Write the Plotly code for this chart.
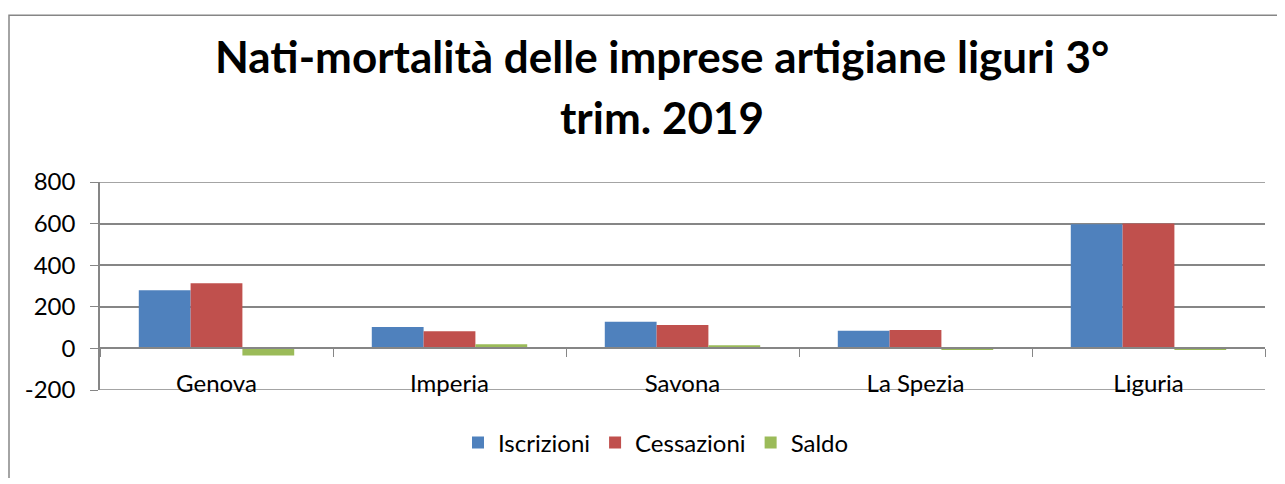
import plotly.graph_objects as go

# values
province = ["Genova", "Imperia", "Savona", "La Spezia", "Liguria"]
iscrizioni = [279, 103, 128, 85, 597]
cessazioni = [313, 83, 113, 88, 600]
saldo = [-34, 20, 15, -3, -3]

series_names = ["Iscrizioni", "Cessazioni", "Saldo"]
colors = ["#4F81BD", "#C0504D", "#9BBB59"]

y_ticks = [-200, 0, 200, 400, 600, 800]
y_labels = ["-200", "0", "200", "400", "600", "800"]

FONT = "Lato"
GRID = "#868686"

# the page body adds an 8px margin, so the figure is a bit smaller
OFF = 8
W, H = 1285 - OFF, 470
L, T = 100 - OFF, 182 - OFF
R = W - (1265 - OFF)
B = H - (394 - OFF)

fig = go.Figure()
for name, vals, col in zip(series_names, [iscrizioni, cessazioni, saldo], colors):
    fig.add_trace(go.Bar(x=province, y=vals, name=name, marker_color=col,
                         marker_line_width=0))

pw = W - L - R
ph = H - T - B


def px_x(p):
    # reference pixel -> paper x
    return (p - OFF - L) / pw


def px_y(p):
    # reference pixel -> paper y
    return (H - B - (p - OFF)) / ph


# outer chart border (only left and top edges fall inside the picture)
fig.add_shape(type="rect", xref="paper", yref="paper",
              x0=px_x(9), x1=px_x(1400), y0=px_y(600), y1=px_y(12),
              line=dict(color=GRID, width=1.5), layer="below")

# top and bottom gridlines (plotly drops the ones at the range ends)
for v in [y_ticks[0], y_ticks[-1]]:
    fig.add_shape(type="line", xref="paper", yref="y", x0=0, x1=1, y0=v, y1=v,
                  line=dict(color=GRID, width=1.5), layer="below")

# title, two lines as in the reference
fig.add_annotation(text="<b>Nati-mortalità delle imprese artigiane liguri 3°</b>",
                   xref="paper", yref="paper", x=px_x(662), y=px_y(54),
                   xanchor="center", yanchor="middle", showarrow=False,
                   font=dict(family=FONT, size=44, color="black"))
fig.add_annotation(text="<b>trim. 2019</b>",
                   xref="paper", yref="paper", x=px_x(662), y=px_y(116),
                   xanchor="center", yanchor="middle", showarrow=False,
                   font=dict(family=FONT, size=44, color="black"))

fig.update_layout(
    width=W, height=H,
    margin=dict(l=L, r=R, t=T, b=B, pad=0),
    paper_bgcolor="white", plot_bgcolor="white",
    barmode="group", bargap=0.333, bargroupgap=0,
    font=dict(family=FONT, size=24, color="black"),
    showlegend=True,
    legend=dict(orientation="h", x=px_x(656), xanchor="center",
                y=px_y(448), yanchor="middle",
                font=dict(family=FONT, size=24, color="black"),
                itemwidth=30, tracegroupgap=0),
)

fig.update_yaxes(range=[-200, 800], tickvals=y_ticks, ticktext=y_labels,
                 showgrid=True, gridcolor=GRID, gridwidth=1.5, zeroline=False,
                 showline=True, linecolor=GRID, linewidth=1.5,
                 ticks="outside", ticklen=8, tickcolor=GRID,
                 ticklabelstandoff=10,
                 tickfont=dict(family=FONT, size=24, color="black"),
                 fixedrange=True)

# category axis sits on the zero line, with ticks between categories
fig.update_xaxes(anchor="free", position=0.2, showline=True, linecolor=GRID,
                 linewidth=1.5, ticks="outside", tickson="boundaries",
                 ticklen=8, tickcolor=GRID, showgrid=False,
                 ticklabelstandoff=14,
                 tickfont=dict(family=FONT, size=24, color="black"),
                 fixedrange=True)

fig.write_html("out.html")
